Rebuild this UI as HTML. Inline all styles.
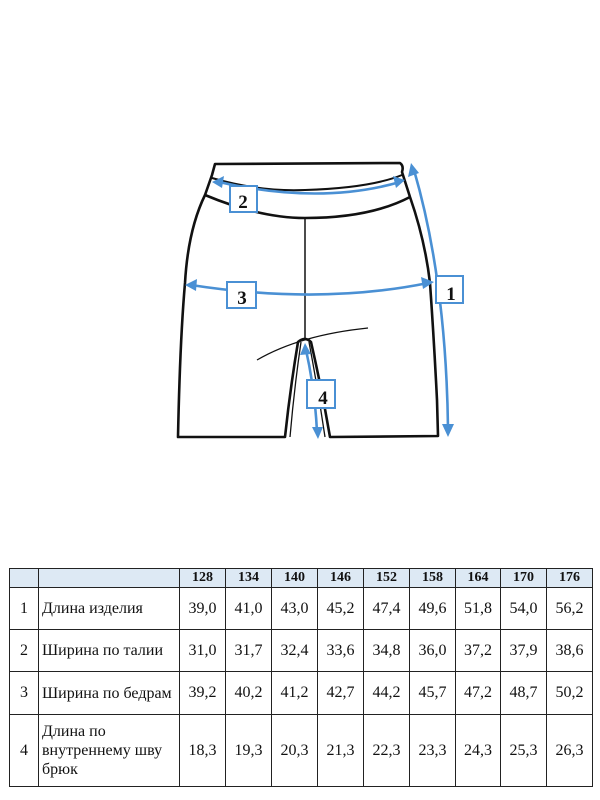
<!DOCTYPE html>
<html><head><meta charset="utf-8"><style>
body{margin:0;width:600px;height:800px;background:#fff;position:relative;overflow:hidden;font-family:"Liberation Serif",serif}
svg{position:absolute;left:0;top:0}
table{position:absolute;left:9px;top:568px;border-collapse:collapse;font-size:16px;color:#111}
td{border:1.5px solid #222;padding:0;text-align:center}
tr.h td{background:#dde9f4;font-weight:bold;font-size:14px;height:18px}
td.n{text-align:left;padding-left:3px;line-height:19px}
</style></head><body>
<svg width="600" height="560" viewBox="0 0 600 560">
<g fill="none" stroke="#111" stroke-width="2.6" stroke-linejoin="round">
<path d="M215,164 L400,163 Q404,166 402,172 L410,197 Q425,240 430,283 Q434,340 437,400 L438,436 L330,437 Q322,390 311,342 Q305,336 298,342 Q290,390 285,437 L178,437 Q180,340 185,283 Q188,230 205,195 L212,175 Z"/>
<path d="M205,195 Q260,218 305,218 Q370,218 410,197"/>
<path d="M212,178 Q260,192 305,190 Q370,188 402,175" stroke-width="2"/>
<path d="M305,218 L305,338" stroke-width="1.5"/>
<path d="M257,360 Q300,335 368,328" stroke-width="1.3"/>
<path d="M301,342 Q294,390 290,437 M309,342 Q318,390 325,437" stroke-width="1.3"/>
</g>
<g fill="none" stroke="#4a90d4" stroke-width="2.6">
<path d="M219,182 Q320,205 400,182"/>
<path d="M191,285 Q320,305 428,283"/>
<path d="M414,170 Q446,280 448,428"/>
<path d="M306,350 Q315,390 317,432"/>
</g>
<g fill="#4a90d4">
<polygon points="212,182 224,176 222,188"/>
<polygon points="405,180 393,176 396,188"/>
<polygon points="185,285 197,279 196,291"/>
<polygon points="434,282 421,277 423,289"/>
<polygon points="411,163 408,177 419,173"/>
<polygon points="448,437 442,424 454,424"/>
<polygon points="305,343 300,355 311,354"/>
<polygon points="318,439 312,427 323,427"/>
</g>
<g fill="#fff" stroke="#4a90d4" stroke-width="2">
<rect x="230" y="186" width="27" height="26"/>
<rect x="227" y="282" width="29" height="26"/>
<rect x="436" y="276" width="27" height="27"/>
<rect x="307" y="380" width="28" height="28"/>
</g>
<g font-family="Liberation Serif,serif" font-weight="bold" font-size="19" fill="#111" text-anchor="middle">
<text x="243" y="208">2</text><text x="242" y="304">3</text><text x="451" y="300">1</text><text x="323" y="404">4</text>
</g>
</svg>
<table>
<tr class="h"><td style="width:28px"></td><td style="width:140px"></td><td style="width:45px">128</td><td style="width:45px">134</td><td style="width:45px">140</td><td style="width:45px">146</td><td style="width:45px">152</td><td style="width:45px">158</td><td style="width:44px">164</td><td style="width:45px">170</td><td style="width:45px">176</td></tr>
<tr style="height:42px"><td>1</td><td class="n">Длина изделия</td><td>39,0</td><td>41,0</td><td>43,0</td><td>45,2</td><td>47,4</td><td>49,6</td><td>51,8</td><td>54,0</td><td>56,2</td></tr>
<tr style="height:42px"><td>2</td><td class="n">Ширина по талии</td><td>31,0</td><td>31,7</td><td>32,4</td><td>33,6</td><td>34,8</td><td>36,0</td><td>37,2</td><td>37,9</td><td>38,6</td></tr>
<tr style="height:43px"><td>3</td><td class="n">Ширина по бедрам</td><td>39,2</td><td>40,2</td><td>41,2</td><td>42,7</td><td>44,2</td><td>45,7</td><td>47,2</td><td>48,7</td><td>50,2</td></tr>
<tr style="height:72px"><td>4</td><td class="n">Длина по<br>внутреннему шву<br>брюк</td><td>18,3</td><td>19,3</td><td>20,3</td><td>21,3</td><td>22,3</td><td>23,3</td><td>24,3</td><td>25,3</td><td>26,3</td></tr>
</table>
</body></html>
